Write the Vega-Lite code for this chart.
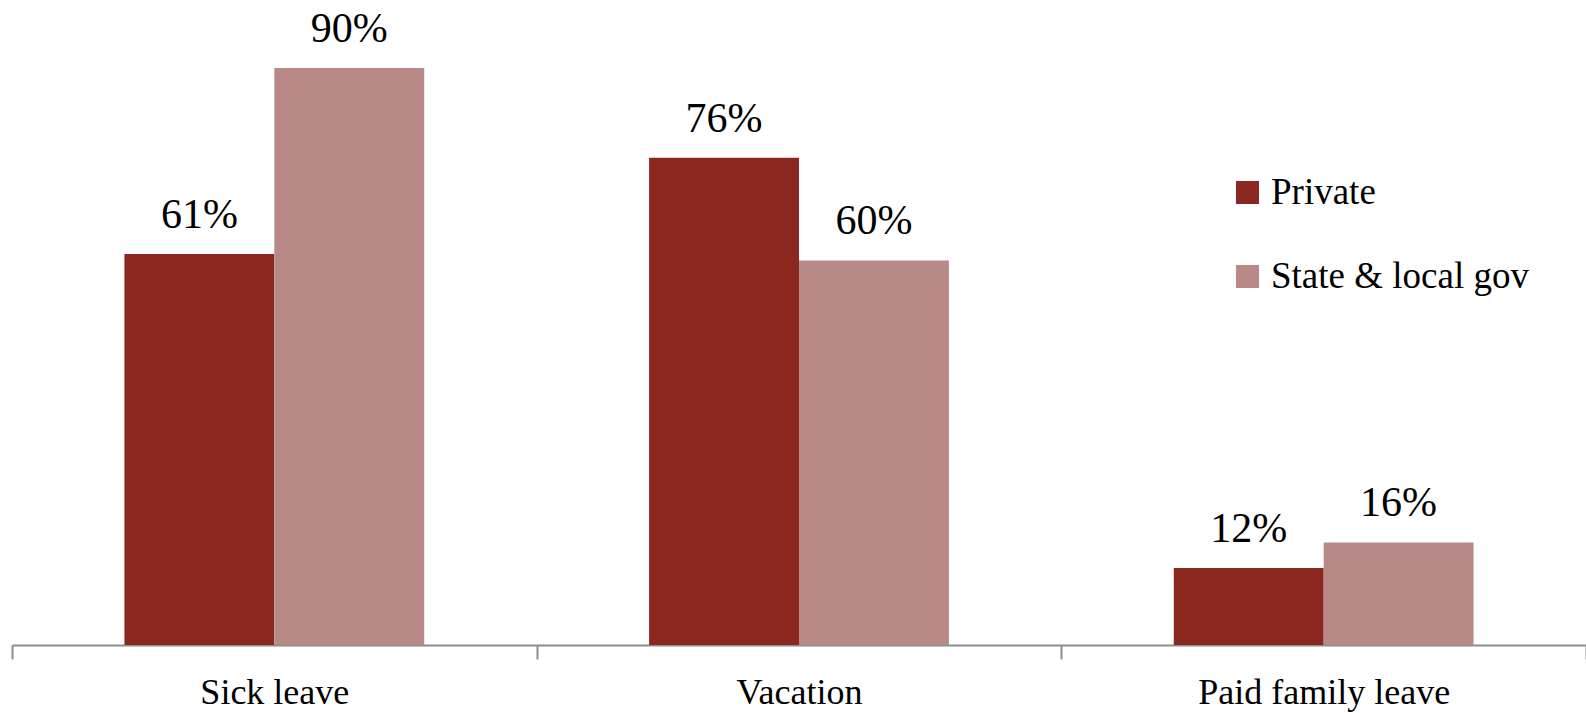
{
  "$schema": "https://vega.github.io/schema/vega-lite/v6.json",
  "width": 1574,
  "height": 641,
  "autosize": {"type": "none"},
  "padding": {"left": 12, "top": 4, "right": 0, "bottom": 68},
  "background": "white",
  "config": {
    "view": {"stroke": null},
    "font": "Liberation Serif",
    "text": {"font": "Liberation Serif"},
    "axis": {"labelFont": "Liberation Serif"},
    "legend": {"labelFont": "Liberation Serif"}
  },
  "data": {
    "values": [
      {"category": "Sick leave", "sector": "Private", "value": 0.61},
      {"category": "Sick leave", "sector": "State & local gov", "value": 0.90},
      {"category": "Vacation", "sector": "Private", "value": 0.76},
      {"category": "Vacation", "sector": "State & local gov", "value": 0.60},
      {"category": "Paid family leave", "sector": "Private", "value": 0.12},
      {"category": "Paid family leave", "sector": "State & local gov", "value": 0.16}
    ]
  },
  "encoding": {
    "x": {
      "field": "category",
      "type": "nominal",
      "sort": ["Sick leave", "Vacation", "Paid family leave"],
      "scale": {"paddingInner": 0, "paddingOuter": 0},
      "axis": {
        "title": null,
        "labelAngle": 0,
        "labelFont": "Liberation Serif",
        "labelFontSize": 36,
        "labelColor": "#000000",
        "labelPadding": 16,
        "labelLimit": 0,
        "tickBand": "extent",
        "tickSize": 14,
        "tickWidth": 2,
        "tickColor": "#8c8c8c",
        "domainColor": "#8c8c8c",
        "domainWidth": 2
      }
    },
    "xOffset": {"field": "sector", "type": "nominal", "sort": ["Private", "State & local gov"], "scale": {"paddingInner": 0, "paddingOuter": 0.75}},
    "y": {
      "field": "value",
      "type": "quantitative",
      "scale": {"domain": [0, 1], "nice": false},
      "axis": null
    }
  },
  "layer": [
    {
      "mark": {"type": "bar"},
      "encoding": {
        "color": {
          "field": "sector",
          "type": "nominal",
          "sort": ["Private", "State & local gov"],
          "scale": {"domain": ["Private", "State & local gov"], "range": ["#8a271f", "#b98987"]},
          "legend": {
            "title": null,
            "orient": "none",
            "legendX": 1217,
            "legendY": 170,
            "symbolType": "square",
            "symbolSize": 529,
            "symbolStrokeWidth": 0,
            "symbolOpacity": 1,
            "labelFont": "Liberation Serif",
            "labelFontSize": 37,
            "labelColor": "#000000",
            "labelOffset": 5,
            "labelLimit": 0,
            "rowPadding": 46
          }
        }
      }
    },
    {
      "mark": {"type": "text", "baseline": "bottom", "dy": -17, "fontSize": 42, "font": "Liberation Serif", "color": "#000000"},
      "encoding": {
        "text": {"field": "value", "type": "quantitative", "format": ".0%"}
      }
    }
  ]
}
